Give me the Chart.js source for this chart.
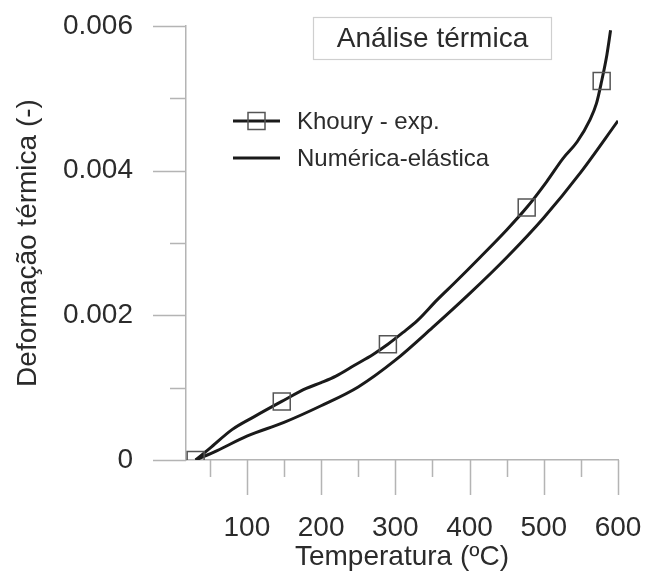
<!DOCTYPE html>
<html>
<head>
<meta charset="utf-8">
<script src="https://cdn.jsdelivr.net/npm/chart.js@4.4.0/dist/chart.umd.min.js"></script>
<style>
  html, body { margin: 0; padding: 0; background: #fff; }
  #wrap { width: 645px; height: 574px; }
</style>
</head>
<body>
<div id="wrap"><canvas id="chart" width="645" height="574"></canvas></div>
<script>
// Khoury - exp. : curva (temperatura ºC / deformação)
const khouryCurveT = [31, 50, 80, 110, 147, 180, 200, 220, 245, 270, 290, 310, 330, 356, 380, 414, 450, 477, 504, 526, 545, 562, 571, 578, 585, 590];
const khouryCurveE = [0, 0.00016, 0.00042, 0.00060, 0.00081, 0.00099, 0.00107, 0.00116, 0.00131, 0.00146, 0.00160, 0.00176, 0.00193, 0.00221, 0.00245, 0.00280, 0.00318, 0.00349, 0.00385, 0.00417, 0.00440, 0.00470, 0.00493, 0.00524, 0.00560, 0.00594];
// Khoury - exp. : marcadores
const khouryPointsT = [31, 147, 290, 477, 578];
const khouryPointsE = [0, 0.00081, 0.00160, 0.00349, 0.00524];
// Numérica-elástica
const numT = [31, 60, 100, 150, 200, 250, 300, 350, 400, 450, 500, 550, 600];
const numE = [0, 0.00013, 0.00033, 0.00052, 0.00075, 0.00101, 0.00138, 0.00183, 0.00230, 0.00280, 0.00335, 0.00398, 0.00469];

const xTickValues = [50, 100, 150, 200, 250, 300, 350, 400, 450, 500, 550, 600];
const xLabelValues = [100, 200, 300, 400, 500, 600];
const yTickValues = [0, 0.001, 0.002, 0.003, 0.004, 0.005, 0.006];
const yLabelValues = [0, 0.002, 0.004, 0.006];

const chartTitle = 'Análise térmica';
const FONT = "'Liberation Sans', Arial, sans-serif";
const TEXT = '#2b2b2b';
const AXIS = '#b4b4b4';

const toXY = (xs, ys) => xs.map((v, i) => ({ x: v, y: ys[i] }));
const isLabel = (list, v) => list.some(l => Math.abs(l - v) < 1e-9);

// ticks longos e curtos, desenhados a partir das escalas
const axisTicks = {
  id: 'axisTicks',
  beforeDatasetsDraw(chart) {
    const { ctx, scales: { x, y } } = chart;
    ctx.save();
    ctx.strokeStyle = AXIS;
    ctx.lineWidth = 1.5;
    ctx.beginPath();
    xTickValues.forEach(v => {
      const px = Math.round(x.getPixelForValue(v)) + 0.5;
      const len = isLabel(xLabelValues, v) ? 35 : 17;
      ctx.moveTo(px, x.top);
      ctx.lineTo(px, x.top + len);
    });
    yTickValues.forEach(v => {
      const py = Math.round(y.getPixelForValue(v)) + 0.5;
      const len = isLabel(yLabelValues, v) ? 33 : 16;
      ctx.moveTo(y.right, py);
      ctx.lineTo(y.right - len, py);
    });
    ctx.stroke();
    ctx.restore();
  }
};

// caixa do título e legenda dentro da área do gráfico
const boxAndLegend = {
  id: 'boxAndLegend',
  afterDraw(chart) {
    const ctx = chart.ctx;
    ctx.save();
    // caixa do título
    ctx.strokeStyle = '#cfcfcf';
    ctx.lineWidth = 1.2;
    ctx.strokeRect(313.5, 17.5, 238, 42);
    ctx.fillStyle = TEXT;
    ctx.font = `28px ${FONT}`;
    ctx.textAlign = 'center';
    ctx.textBaseline = 'middle';
    ctx.fillText(chartTitle, 432.5, 39);

    // legenda
    const items = [chart.data.datasets[1], chart.data.datasets[2]];
    const rows = [121, 158];
    ctx.font = `24px ${FONT}`;
    ctx.textAlign = 'left';
    items.forEach((ds, i) => {
      ctx.strokeStyle = '#1a1a1a';
      ctx.lineWidth = 3;
      ctx.beginPath();
      ctx.moveTo(233, rows[i]);
      ctx.lineTo(280, rows[i]);
      ctx.stroke();
      if (i === 0) {
        ctx.strokeStyle = '#555';
        ctx.lineWidth = 1.5;
        ctx.strokeRect(248, rows[i] - 8.5, 17, 17);
      }
      ctx.fillStyle = TEXT;
      ctx.fillText(ds.label, 297, rows[i] + 1);
    });
    ctx.restore();
  }
};

new Chart(document.getElementById('chart'), {
  type: 'scatter',
  data: {
    datasets: [
      {
        label: 'Khoury - exp. (marcadores)',
        data: toXY(khouryPointsT, khouryPointsE),
        showLine: false,
        pointStyle: 'rect',
        pointRadius: 12,
        pointBorderColor: '#555',
        pointBackgroundColor: 'rgba(0,0,0,0)',
        pointBorderWidth: 1.5
      },
      {
        label: 'Khoury - exp.',
        data: toXY(khouryCurveT, khouryCurveE),
        showLine: true,
        borderColor: '#1a1a1a',
        borderWidth: 3,
        pointRadius: 0,
        cubicInterpolationMode: 'monotone'
      },
      {
        label: 'Numérica-elástica',
        data: toXY(numT, numE),
        showLine: true,
        borderColor: '#1a1a1a',
        borderWidth: 3,
        pointRadius: 0,
        cubicInterpolationMode: 'monotone'
      }
    ]
  },
  options: {
    responsive: false,
    animation: false,
    devicePixelRatio: 1,
    layout: { padding: { top: 26, right: 27, left: 0, bottom: 0 } },
    plugins: {
      legend: { display: false },
      tooltip: { enabled: false }
    },
    scales: {
      x: {
        type: 'linear',
        min: 18,
        max: 600,
        afterFit(scale) { scale.height = 114; },
        afterBuildTicks(scale) { scale.ticks = xTickValues.map(v => ({ value: v })); },
        grid: { display: true, drawOnChartArea: false, drawTicks: true, tickLength: 48, tickColor: 'rgba(0,0,0,0)' },
        border: { display: true, color: AXIS, width: 1.5 },
        ticks: {
          autoSkip: false,
          maxRotation: 0,
          padding: 3,
          color: TEXT,
          font: { family: FONT, size: 28 },
          callback: v => isLabel(xLabelValues, v) ? String(v) : ''
        },
        title: {
          display: true,
          text: 'Temperatura (ºC)',
          color: TEXT,
          font: { family: FONT, size: 28 },
          padding: { top: 0, bottom: 0 }
        }
      },
      y: {
        type: 'linear',
        min: 0,
        max: 0.006,
        afterFit(scale) { scale.width = 186; },
        afterBuildTicks(scale) { scale.ticks = yTickValues.map(v => ({ value: v })); },
        grid: { display: true, drawOnChartArea: false, drawTicks: true, tickLength: 50, tickColor: 'rgba(0,0,0,0)' },
        border: { display: true, color: AXIS, width: 1.5 },
        ticks: {
          autoSkip: false,
          padding: 3,
          color: TEXT,
          font: { family: FONT, size: 28 },
          callback: v => isLabel(yLabelValues, v) ? (v === 0 ? '0' : v.toFixed(3)) : ''
        },
        title: {
          display: true,
          text: 'Deformação térmica (-)',
          color: TEXT,
          font: { family: FONT, size: 28 },
          padding: { top: 11, bottom: 0 }
        }
      }
    }
  },
  plugins: [axisTicks, boxAndLegend]
});
</script>
</body>
</html>
